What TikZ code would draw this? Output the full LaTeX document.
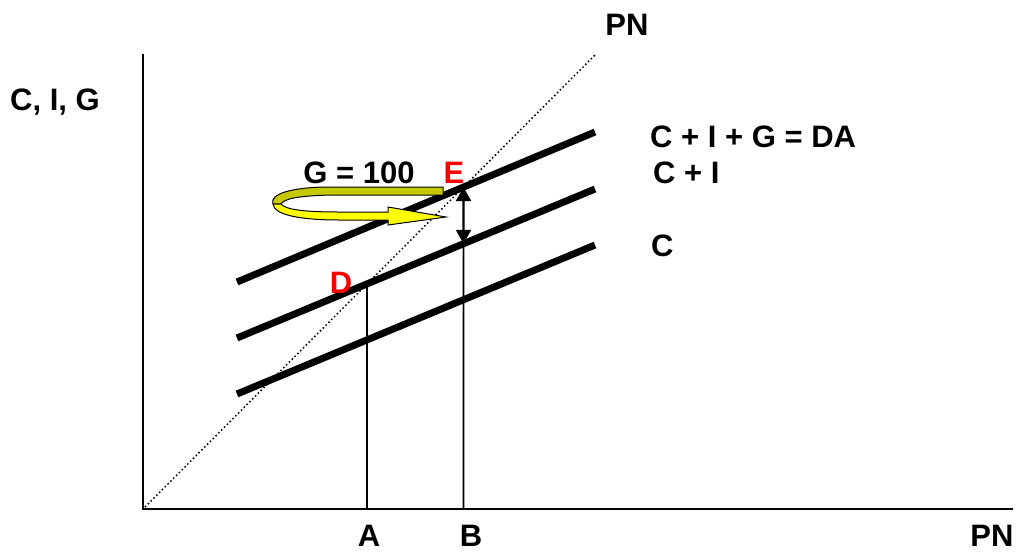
\documentclass[tikz,border=0pt]{standalone}
\usepackage{fontspec}
\setmainfont{Liberation Sans}
\usepackage{tikz}
\usetikzlibrary{arrows.meta, calc}
\definecolor{ribbonfront}{RGB}{255,255,0}
\definecolor{ribbonback}{RGB}{200,200,0}
\tikzset{
  axis/.style={line width=2.2pt,draw=black},
  curve/.style={line width=7pt,draw=black},
  guide/.style={line width=1.8pt,draw=black},
  diag/.style={line width=1.5pt,draw=black,dash pattern=on 1.5pt off 2.5pt},
  lbl/.style={font=\fontsize{31}{37}\selectfont\bfseries,inner sep=0pt},
  pt/.style={lbl,text=red},
  ar/.style={{Triangle[length=14pt,width=15pt]}-{Triangle[length=14pt,width=15pt]},line width=2.4pt,draw=black}
}

\begin{document}
\begin{tikzpicture}[x=1pt,y=-1pt]
\useasboundingbox (0,0) rectangle (1016,552);
% axes
\coordinate (O) at (143,509);
\coordinate (Ytop) at (143,54);
\coordinate (Xend) at (1013,509);
\draw[axis] (Ytop) -- (O) -- (Xend);
% 45 degree line
\coordinate (Dstart) at (145,507);
\coordinate (Dend) at (595,55);
\draw[diag] (Dstart) -- (Dend);
% spending lines
\coordinate (DAa) at (237,282); \coordinate (DAb) at (595,132);
\coordinate (CIa) at (237,338); \coordinate (CIb) at (595,189);
\coordinate (Ca) at (237,394);  \coordinate (Cb) at (595,245);
\draw[curve] (DAa) -- (DAb);
\draw[curve] (CIa) -- (CIb);
\draw[curve] (Ca) -- (Cb);
% equilibria
\coordinate (E) at (intersection of DAa--DAb and Dstart--Dend);
\coordinate (D) at (intersection of CIa--CIb and Dstart--Dend);
\coordinate (A) at (D |- O);
\coordinate (B) at (E |- O);
\coordinate (Emid) at (intersection of CIa--CIb and E--B);
\draw[guide] (A) -- (D);
\draw[guide] (B) -- (Emid);
\draw[ar] (Emid) -- (E);
% ribbon arrow
\fill[ribbonback,draw=black,line width=1pt] (443,187) -- (443,195) -- (330,195)
  .. controls (296,196) and (284,199) .. (281,204) -- (273,204)
  .. controls (269,194) and (292,187) .. (330,187) -- cycle;
\fill[ribbonfront,draw=black,line width=1pt] (273,204)
  .. controls (274,215) and (300,220) .. (340,220) -- (388,220) -- (388,225)
  -- (446,217) -- (388,207) -- (388,212) -- (340,212)
  .. controls (306,212) and (286,210) .. (281,204) -- cycle;
% labels
\node[lbl,anchor=base] (yl) at (55,110) {C, I, G};
\node[lbl,anchor=base] (pntop) at (627,35) {PN};
\node[lbl,anchor=base] (pnx) at (992,546) {PN};
\node[lbl,anchor=base] (al) at (369,546) {A};
\node[lbl,anchor=base] (bl) at (471,546) {B};
\node[lbl,anchor=base west] (dal) at (650,147) {C + I + G = DA};
\node[lbl,anchor=base west] (cil) at (653,183) {C + I};
\node[lbl,anchor=base west] (cl) at (651,256) {C};
\node[lbl,anchor=base] (gl) at (359,183) {G = 100};
\node[pt,anchor=base] (el) at (454,183) {E};
\node[pt,anchor=base] (dl) at (341,293) {D};
\end{tikzpicture}
\end{document}
